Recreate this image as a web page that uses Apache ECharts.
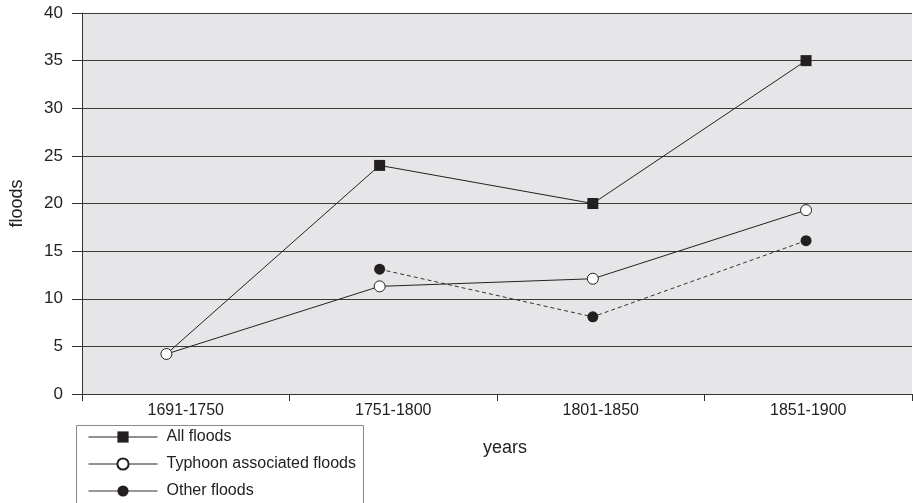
<!DOCTYPE html>
<html>
<head>
<meta charset="utf-8">
<script src="https://cdn.jsdelivr.net/npm/echarts@6/dist/echarts.min.js"></script>
<style>
html,body{margin:0;padding:0;background:#fff;}
#chart{width:913px;height:503px;}
</style>
</head>
<body>
<div id="chart"></div>
<script>
const categories = ['1691-1750', '1751-1800', '1801-1850', '1851-1900'];
const allFloods = [4.2, 24, 20, 35];
const typhoonFloods = [4.2, 11.3, 12.1, 19.3];
const otherFloods = [null, 13.1, 8.1, 16.1];
const yTicks = [0, 5, 10, 15, 20, 25, 30, 35, 40];

const chart = echarts.init(document.getElementById('chart'), null, {renderer: 'canvas'});
const font = 'Liberation Sans, Arial, sans-serif';

const toPoints = arr => arr.map((v, i) => v == null ? [i, null] : [i, v]);

const option = {
  backgroundColor: '#ffffff',
  animation: false,
  textStyle: {fontFamily: font},
  grid: {
    left: 82, top: 13, width: 830, height: 381,
    show: true, backgroundColor: '#e6e6e8', borderWidth: 0
  },
  graphic: [
    {
      type: 'rect',
      left: 76, top: 425,
      shape: {width: 287, height: 100},
      style: {fill: '#ffffff', stroke: '#8a8a8a', lineWidth: 1},
      z: -1
    }
  ],
  legend: {
    orient: 'vertical',
    left: 76, top: 425,
    height: 140,
    padding: [4, 7, 2, 12],
    itemWidth: 69, itemHeight: 14, itemGap: 11,
    borderWidth: 0,
    lineStyle: {type: 'solid', width: 1},
    textStyle: {fontSize: 16, color: '#222', fontFamily: font, padding: [0, 0, 0, 4]},
    data: ['All floods', 'Typhoon associated floods', 'Other floods']
  },
  xAxis: [
    {
      type: 'category',
      data: categories,
      boundaryGap: true,
      name: 'years',
      nameLocation: 'middle',
      nameGap: 45,
      nameTextStyle: {fontSize: 18, color: '#222', fontFamily: font, padding: [0, 0, 0, 16]},
      axisLine: {show: true, onZero: false, lineStyle: {color: '#333', width: 1}},
      axisTick: {show: true, length: 7, lineStyle: {color: '#333'}},
      axisLabel: {fontSize: 16, color: '#222', margin: 9, fontFamily: font},
      splitLine: {show: false}
    },
    {
      type: 'value',
      min: -0.396, max: 3.497,
      show: false,
      position: 'bottom',
      axisLine: {onZero: false},
      splitLine: {show: false}
    }
  ],
  yAxis: {
    type: 'value',
    min: yTicks[0], max: yTicks[yTicks.length - 1], interval: 5,
    name: 'floods',
    nameLocation: 'middle',
    nameGap: 56,
    nameRotate: 90,
    nameTextStyle: {fontSize: 18, color: '#222', fontFamily: font},
    axisLine: {show: true, onZero: false, lineStyle: {color: '#333', width: 1}},
    axisTick: {show: true, inside: false, length: 10, lineStyle: {color: '#333'}},
    axisLabel: {fontSize: 17, color: '#222', margin: 19, fontFamily: font},
    splitLine: {show: true, lineStyle: {color: '#3a3a3a', width: 1}}
  },
  series: [
    {
      name: 'All floods',
      type: 'line',
      xAxisIndex: 1,
      data: toPoints(allFloods).map((p, i) => i === 0 ? {value: p, symbol: 'none'} : p),
      symbol: 'rect',
      symbolSize: 11,
      lineStyle: {color: '#222', width: 1},
      itemStyle: {color: '#231f20', borderColor: '#231f20', borderWidth: 0},
      z: 3
    },
    {
      name: 'Other floods',
      type: 'line',
      xAxisIndex: 1,
      data: toPoints(otherFloods),
      connectNulls: false,
      symbol: 'circle',
      symbolSize: 11,
      lineStyle: {color: '#333', width: 1, type: [4, 3]},
      itemStyle: {color: '#231f20', borderColor: '#231f20', borderWidth: 0},
      z: 3
    },
    {
      name: 'Typhoon associated floods',
      type: 'line',
      xAxisIndex: 1,
      data: toPoints(typhoonFloods),
      symbol: 'circle',
      symbolSize: 11,
      lineStyle: {color: '#222', width: 1},
      itemStyle: {color: '#ffffff', borderColor: '#231f20', borderWidth: 1},
      z: 4
    }
  ]
};
chart.setOption(option);
</script>
</body>
</html>
